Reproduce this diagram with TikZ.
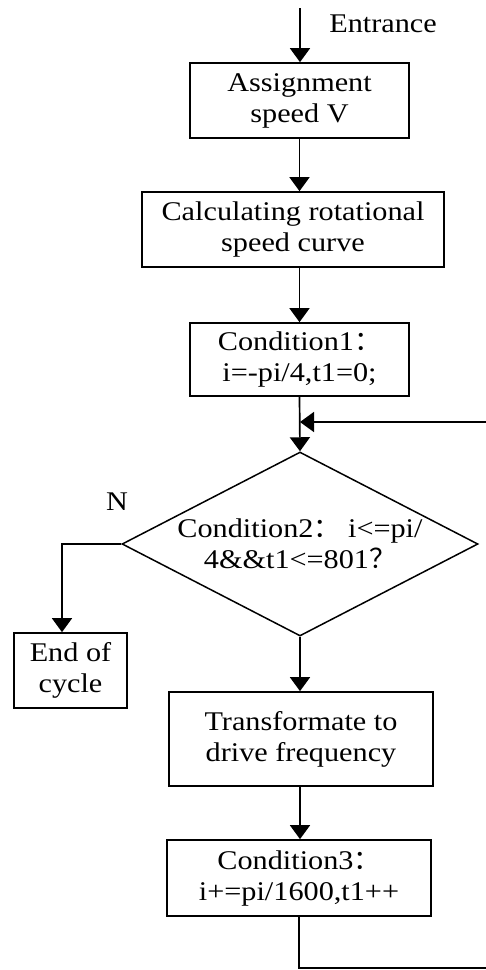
\documentclass[tikz,border=0pt]{standalone}
\usepackage{fontspec}
\setmainfont{Liberation Serif}[FakeStretch=1.12]
\newfontfamily\cjk{Noto Sans CJK SC}
\usetikzlibrary{shapes.geometric,arrows.meta}
\begin{document}
\begin{tikzpicture}[
        x=1pt, y=-1pt,
        every node/.style={font=\fontsize{27}{31}\selectfont, align=center, inner sep=0pt},
        box/.style={draw, line width=1.7pt},
        cond/.style={draw, diamond, line width=1.5pt, aspect=1.93, minimum width=356pt, minimum height=184pt},
        flow/.style={draw, line width=1.7pt, -{Triangle[length=14pt, width=20pt]}},
    ]
    \useasboundingbox (0,0) rectangle (486,970);
    \coordinate (entry) at (300,8);
    \node (entrance) at (383,24) {Entrance};
    \node[box, minimum width=219pt, minimum height=75pt] (assign) at (299.5,100.5) {Assignment\\speed V};
    \node[box, minimum width=302pt, minimum height=75pt] (curve) at (293,229.5) {Calculating rotational\\speed curve};
    \node[box, minimum width=219pt, minimum height=73pt] (init) at (299.5,359.5) {Condition1{\cjk ：}\\i=-pi/4,t1=0;};
    \coordinate (merge) at (300,422);
    \node[cond] (test) at (300,544) {Condition2{\cjk ：} i<=pi/\\4\&\&t1<=801{\cjk ？}};
    \node (no) at (117,502) {N};
    \node[box, minimum width=113pt, minimum height=75pt] (stop) at (70.5,670.5) {End of\\cycle};
    \node[box, minimum width=264pt, minimum height=94pt] (drive) at (301,739) {Transformate to\\drive frequency};
    \node[box, minimum width=264pt, minimum height=76pt] (inc) at (299,878) {Condition3{\cjk ：}\\i+=pi/1600,t1++};
    \coordinate (loop) at (492,968);

    \draw[flow] (entry) -- (entry |- assign.north);
    \draw[flow] (assign.south) -- (assign.south |- curve.north);
    \draw[flow] (assign.south |- curve.south) -- (assign.south |- init.north);
    \draw[flow] (init.south) -- (test.north);
    \draw[flow] (test.west) -| ([xshift=-8.5pt]stop.north);
    \draw[flow] (test.south) -- (test.south |- drive.north);
    \draw[flow] (test.south |- drive.south) -- (test.south |- inc.north);
    \draw[flow] (inc.south) |- (loop) |- (merge);
\end{tikzpicture}
\end{document}
